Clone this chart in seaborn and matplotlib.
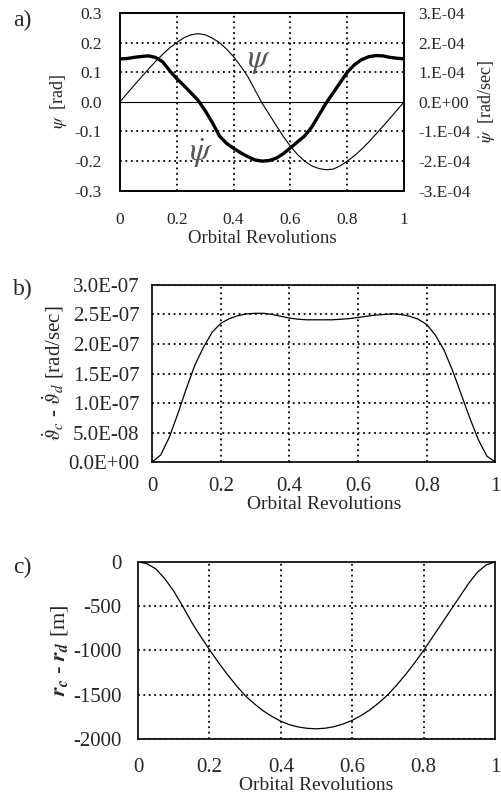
import numpy as np
import pandas as pd
import matplotlib
matplotlib.use("Agg")
import matplotlib.pyplot as plt
import seaborn as sns

# ---- data ----
rev = [0.0, 0.025, 0.05, 0.075, 0.1, 0.125, 0.15, 0.175, 0.2, 0.225, 0.25,
       0.275, 0.3, 0.325, 0.35, 0.375, 0.4, 0.425, 0.45, 0.475, 0.5,
       0.525, 0.55, 0.575, 0.6, 0.625, 0.65, 0.675, 0.7, 0.725, 0.75,
       0.775, 0.8, 0.825, 0.85, 0.875, 0.9, 0.925, 0.95, 0.975, 1.0]

# panel a: yaw angle [rad] and yaw rate [1e-4 rad/sec]
psi = [0.0, 0.028, 0.056, 0.083, 0.11, 0.136, 0.16, 0.182, 0.2, 0.216, 0.226,
       0.23, 0.226, 0.215, 0.2, 0.178, 0.152, 0.12, 0.085, 0.04, -0.004,
       -0.042, -0.08, -0.117, -0.15, -0.178, -0.2, -0.216, -0.225, -0.229, -0.227,
       -0.216, -0.2, -0.182, -0.16, -0.136, -0.11, -0.083, -0.056, -0.028, 0.0]
psi_dot = [1.45, 1.46, 1.5, 1.53, 1.55, 1.5, 1.35, 1.05, 0.78, 0.55, 0.3,
           0.05, -0.3, -0.7, -1.15, -1.4, -1.57, -1.72, -1.85, -1.96, -2.0,
           -1.98, -1.9, -1.75, -1.55, -1.35, -1.15, -0.85, -0.45, -0.05, 0.3,
           0.65, 1.0, 1.25, 1.42, 1.52, 1.56, 1.55, 1.5, 1.47, 1.45]

# panel b: difference of true anomaly rates [1e-7 rad/sec]
dtheta = [0.0, 0.12, 0.42, 0.82, 1.25, 1.65, 1.95, 2.2, 2.35, 2.43, 2.48,
          2.51, 2.52, 2.52, 2.5, 2.47, 2.44, 2.42, 2.41, 2.41, 2.41,
          2.41, 2.42, 2.43, 2.45, 2.47, 2.49, 2.5, 2.51, 2.5, 2.47,
          2.42, 2.33, 2.15, 1.9, 1.55, 1.15, 0.75, 0.38, 0.1, 0.0]

# panel c: radius difference [m]
dr = [0, -20, -80, -190, -330, -500, -680, -840, -990, -1135, -1270,
      -1395, -1510, -1600, -1680, -1745, -1800, -1840, -1865, -1880, -1885,
      -1878, -1860, -1830, -1790, -1735, -1670, -1590, -1500, -1390, -1270,
      -1140, -1000, -850, -700, -550, -400, -250, -120, -35, 0]

xticks = [0, 0.2, 0.4, 0.6, 0.8, 1]
xtick_labels = ["0", "0.2", "0.4", "0.6", "0.8", "1"]
a_left_ticks = [0.3, 0.2, 0.1, 0.0, -0.1, -0.2, -0.3]
a_left_labels = ["0.3", "0.2", "0.1", "0.0", "-0.1", "-0.2", "-0.3"]
a_right_ticks = [3, 2, 1, 0, -1, -2, -3]
a_right_labels = ["3.E-04", "2.E-04", "1.E-04", "0.E+00", "-1.E-04", "-2.E-04", "-3.E-04"]
b_ticks = [0, 0.5, 1.0, 1.5, 2.0, 2.5, 3.0]
b_labels = ["0.0E+00", "5.0E-08", "1.0E-07", "1.5E-07", "2.0E-07", "2.5E-07", "3.0E-07"]
c_ticks = [0, -500, -1000, -1500, -2000]
c_labels = ["0", "-500", "-1000", "-1500", "-2000"]

# ---- style ----
sns.set_style("white")
plt.rcParams["font.family"] = ["Liberation Serif", "DejaVu Serif"]
plt.rcParams["mathtext.fontset"] = "stix"
plt.rcParams["axes.unicode_minus"] = False

fig = plt.figure(figsize=(5.02, 8.05), dpi=100)
grid_kw = dict(color="black", linestyle=(0, (1, 2)), linewidth=1.3)


def style_axes(ax, fs, xpad, ypad):
    ax.set_xlim(0, 1)
    ax.set_xticks(xticks)
    ax.set_xticklabels(xtick_labels)
    ax.tick_params(length=0, labelsize=fs)
    ax.tick_params(axis="x", pad=xpad)
    ax.tick_params(axis="y", pad=ypad)
    for x in [0.2, 0.4, 0.6, 0.8]:
        ax.axvline(x, **grid_kw, zorder=0)
    for s in ax.spines.values():
        s.set_color("black")
        s.set_linewidth(1.2)


df = pd.DataFrame({"rev": rev, "psi": psi, "psi_dot": psi_dot,
                   "dtheta": dtheta, "dr": dr})

# ---- panel a ----
ax1 = fig.add_axes([0.239, 0.763, 0.566, 0.221])
sns.lineplot(data=df, x="rev", y="psi", ax=ax1, color="black", linewidth=0.8)
ax1.set_ylim(-0.3, 0.3)
ax1.set_yticks(a_left_ticks)
ax1.set_yticklabels(a_left_labels)
style_axes(ax1, 12.5, 15, 13)
for y in [0.3, 0.2, 0.1, -0.1, -0.2, -0.3]:
    ax1.axhline(y, **grid_kw, zorder=0)
ax1.axhline(0, color="black", linewidth=0.8)
ax1.set_xlabel("Orbital Revolutions", fontsize=13.5, labelpad=2)
ax1.set_ylabel(r"$\psi$  [rad]", fontsize=13, labelpad=4)

ax2 = ax1.twinx()
sns.lineplot(data=df, x="rev", y="psi_dot", ax=ax2, color="black", linewidth=2.4)
ax2.set_ylim(-3, 3)
ax2.set_yticks(a_right_ticks)
ax2.set_yticklabels(a_right_labels)
ax2.tick_params(length=0, labelsize=12.5, pad=10)
ax2.set_ylabel(r"$\dot{\psi}$  [rad/sec]", fontsize=13, labelpad=4)
for s in ax2.spines.values():
    s.set_color("black")
    s.set_linewidth(1.2)

ax1.text(0.49, 0.14, r"$\psi$", fontsize=24, color="#555555", ha="center", va="center")
ax1.text(0.285, -0.175, r"$\dot{\psi}$", fontsize=24, color="#555555", ha="center", va="center")
fig.text(0.026, 0.975, "a)", fontsize=17, va="center")

# ---- panel b ----
ax3 = fig.add_axes([0.303, 0.426, 0.684, 0.220])
sns.lineplot(data=df, x="rev", y="dtheta", ax=ax3, color="black", linewidth=0.9)
ax3.set_ylim(0, 3.0)
ax3.set_yticks(b_ticks)
ax3.set_yticklabels(b_labels)
style_axes(ax3, 15, 11, 9)
for y in b_ticks[1:]:
    ax3.axhline(y, **grid_kw, zorder=0)
ax3.set_xlabel("Orbital Revolutions", fontsize=14, labelpad=0)
ax3.set_ylabel(r"$\dot{\vartheta}_c$ - $\dot{\vartheta}_d$ [rad/sec]", fontsize=15, labelpad=2)
fig.text(0.026, 0.641, "b)", fontsize=17, va="center")

# ---- panel c ----
ax4 = fig.add_axes([0.275, 0.082, 0.711, 0.220])
sns.lineplot(data=df, x="rev", y="dr", ax=ax4, color="black", linewidth=0.9)
ax4.set_ylim(-2000, 0)
ax4.set_yticks(c_ticks)
ax4.set_yticklabels(c_labels)
style_axes(ax4, 15, 14, 12)
for y in c_ticks[1:]:
    ax4.axhline(y, **grid_kw, zorder=0)
ax4.set_xlabel("Orbital Revolutions", fontsize=14, labelpad=0)
ax4.set_ylabel(r"$\mathbfit{r}_{\mathbfit{c}}$ - $\mathbfit{r}_{\mathbfit{d}}$ [m]", fontsize=16, labelpad=2)
fig.text(0.026, 0.295, "c)", fontsize=17, va="center")

fig.savefig("out.png", dpi=100)
